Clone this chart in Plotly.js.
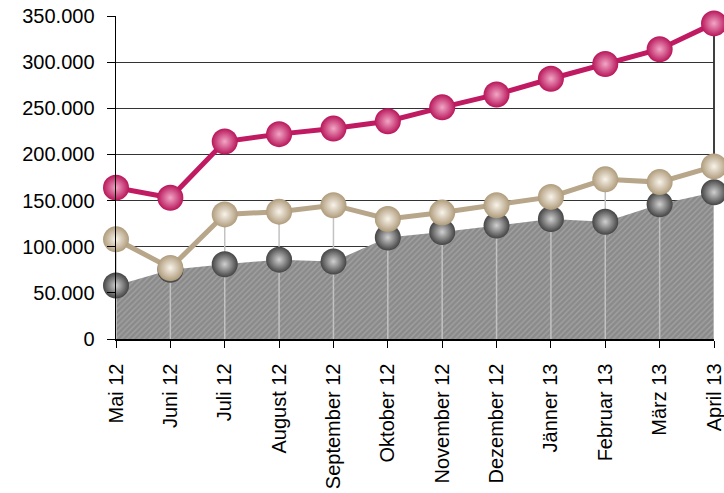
<!DOCTYPE html>
<html>
<head>
<meta charset="utf-8">
<script src="https://cdn.plot.ly/plotly-3.0.1.min.js"></script>
<style>html,body{margin:0;padding:0;background:#fff;}#chart{width:724px;height:493px;}</style>
</head>
<body>
<div id="chart"></div>
<script>
const months = ["Mai 12","Juni 12","Juli 12","August 12","September 12","Oktober 12","November 12","Dezember 12","Jänner 13","Februar 13","März 13","April 13"];
const seriesMagenta = [164000,153000,214000,222000,228000,236000,251000,265000,282000,298000,314000,342000];
const seriesTan = [108000,77000,135000,138000,145000,130000,137000,145000,154000,173000,170000,187000];
const seriesGray = [58000,75000,81000,86000,84000,110000,116000,123000,130000,127000,146000,159000];
const yTicks = [0,50000,100000,150000,200000,250000,300000,350000];

// drop lines from the upper points down to zero
const dropX = [], dropY = [];
months.forEach((m, i) => {
  dropX.push(m, m, null);
  dropY.push(Math.max(seriesTan[i], seriesGray[i]), 0, null);
});

const traces = [
  {x: months, y: seriesGray, type: 'scatter', mode: 'lines', fill: 'tozeroy',
   line: {width: 0, color: '#8c8c8c'}, fillcolor: '#8e8e8e',
   fillpattern: {shape: '/', bgcolor: '#8a8a8a', fgcolor: '#a2a2a2', size: 4, solidity: 0.35},
   hoverinfo: 'skip', showlegend: false},
  {x: dropX, y: dropY, type: 'scatter', mode: 'lines',
   line: {width: 1.5, color: '#c2c2c2'}, hoverinfo: 'skip', showlegend: false, connectgaps: false},
  {x: months, y: seriesGray, type: 'scatter', mode: 'markers', cliponaxis: false,
   marker: {size: 26, color: '#444444', line: {width: 0}, gradient: {type: 'radial', color: '#d0d0d0'}},
   showlegend: false},
  {x: months, y: seriesTan, type: 'scatter', mode: 'lines+markers', cliponaxis: false,
   line: {width: 5, color: '#b8a68a'},
   marker: {size: 26, color: '#b09c7c', line: {width: 0}, gradient: {type: 'radial', color: '#f8f3ea'}},
   showlegend: false},
  {x: months, y: seriesMagenta, type: 'scatter', mode: 'lines+markers', cliponaxis: false,
   line: {width: 5, color: '#c01a62'},
   marker: {size: 26, color: '#b8165a', line: {width: 0}, gradient: {type: 'radial', color: '#f2a6c6'}},
   showlegend: false}
];

const layout = {
  width: 724, height: 493,
  margin: {l: 116, r: 10, t: 16, b: 154, pad: 0},
  paper_bgcolor: '#ffffff', plot_bgcolor: '#ffffff',
  separators: ',.',
  font: {family: 'Liberation Sans, Arial, sans-serif', size: 20, color: '#000'},
  showlegend: false,
  xaxis: {type: 'category', range: [0, months.length - 1], tickangle: -90,
    showline: true, linecolor: '#000', linewidth: 1.5, ticks: 'outside', ticklen: 7, tickcolor: '#000',
    showgrid: false, zeroline: false, ticklabelstandoff: 8, fixedrange: true},
  yaxis: {range: [0, 350000], tickvals: yTicks, tickformat: ',d',
    showline: true, linecolor: '#000', linewidth: 1.5, ticks: 'outside', ticklen: 8, tickcolor: '#000',
    showgrid: true, gridcolor: '#333', gridwidth: 1, zeroline: false, ticklabelstandoff: 8, fixedrange: true},
  shapes: [
    {type: 'line', xref: 'paper', yref: 'y', x0: 1, x1: 1, y0: 200000, y1: 350000,
     line: {color: '#000', width: 1.5}, layer: 'below'}
  ]
};

Plotly.newPlot('chart', traces, layout, {displayModeBar: false, staticPlot: true});
</script>
</body>
</html>
